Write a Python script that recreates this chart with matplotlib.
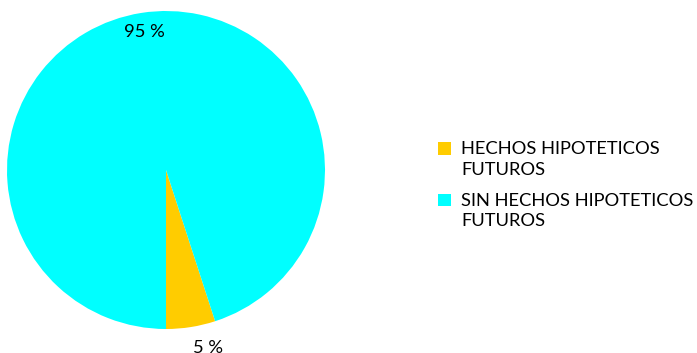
import numpy as np
import matplotlib.pyplot as plt
from matplotlib.patches import Rectangle

# Datos del gráfico
categorias = ['HECHOS HIPOTETICOS\nFUTUROS', 'SIN HECHOS HIPOTETICOS\nFUTUROS']
porcentajes = [5, 95]
colores = ['#FFCC00', '#00FFFF']

plt.rcParams['font.family'] = ['Lato', 'DejaVu Sans']

W, H = 697, 353
fig = plt.figure(figsize=(W / 100, H / 100), dpi=100)
ax = fig.add_axes([7/W, 24/H, 318/W, 318/H])

wedges, textos, pcts = ax.pie(porcentajes, colors=colores, startangle=-90,
                              counterclock=True, radius=1,
                              autopct=lambda p: '%d %%' % round(p),
                              pctdistance=0.88,
                              textprops={'fontsize': 13.2, 'color': '#000000'})
ax.set_xlim(-1, 1)
ax.set_ylim(-1, 1)
ax.set_aspect('equal')
ax.axis('off')

# la etiqueta del sector pequeño va fuera del círculo
w = wedges[0]
ang = np.deg2rad((w.theta1 + w.theta2) / 2)
pcts[0].set_position((1.08 * np.cos(ang), 1.08 * np.sin(ang)))
pcts[0].set_ha('left')
pcts[0].set_va('top')

# leyenda dibujada a mano: cuadro a la altura de la primera línea
y0 = 154.5        # línea base de la primera línea (px desde arriba)
paso_linea = 20.5
paso_entrada = 51.5
for i, (cat, col) in enumerate(zip(categorias, colores)):
    yb = y0 + i * paso_entrada
    fig.patches.append(Rectangle((438/W, 1 - yb/H), 13/W, 12/H,
                                 transform=fig.transFigure,
                                 facecolor=col, edgecolor='none'))
    for j, linea in enumerate(cat.split('\n')):
        fig.text(461/W, 1 - (yb + j * paso_linea)/H, linea,
                 fontsize=13.2, ha='left', va='baseline', color='#000000')

fig.savefig('out.png', dpi=100)
